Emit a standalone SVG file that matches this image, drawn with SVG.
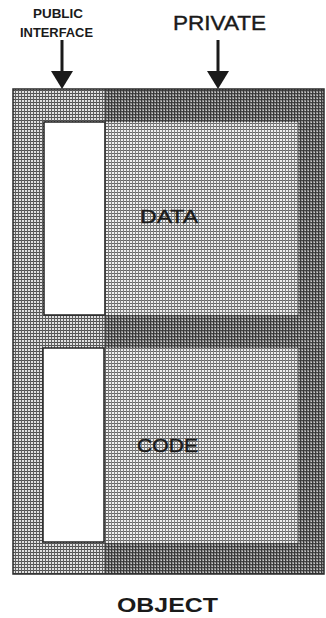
<svg xmlns="http://www.w3.org/2000/svg" width="326" height="618" viewBox="0 0 326 618">
  <style>
    .lbl { font-family: "Liberation Sans", Arial, sans-serif; fill: #1a1a1a; }
    .bold { font-weight: bold; }
    .edge { fill: none; stroke: #2a2a2a; stroke-width: 1.5; }
    .slot { fill: #ffffff; stroke: #222; stroke-width: 1.5; }
    .arrow { stroke: #1a1a1a; stroke-width: 3; fill: none; }
  </style>
  <defs>
    <pattern id="pubPat" width="3" height="3" patternUnits="userSpaceOnUse">
      <rect width="3" height="3" fill="#e0e0e0"/>
      <rect width="3" height="1" fill="#505050"/>
      <rect width="1" height="3" fill="#606060"/>
    </pattern>
    <pattern id="darkPat" width="3" height="3" patternUnits="userSpaceOnUse">
      <rect width="3" height="3" fill="#8e8e8e"/>
      <rect width="3" height="1" fill="#444"/>
      <rect width="1" height="3" fill="#383838"/>
      <rect x="2" y="2" width="1" height="1" fill="#c8c8c8"/>
    </pattern>
    <pattern id="lightPat" width="3" height="3" patternUnits="userSpaceOnUse">
      <rect width="3" height="3" fill="#eeeeee"/>
      <rect width="3" height="1" fill="#666"/>
      <rect width="1" height="3" fill="#808080"/>
    </pattern>
  </defs>

  <rect width="326" height="618" fill="#ffffff"/>

  <g id="private">
    <rect x="105" y="89" width="219" height="485" fill="url(#darkPat)"/>
  </g>

  <g id="data">
    <rect x="105" y="122" width="193" height="193" fill="url(#lightPat)"/>
    <text class="lbl" x="140" y="223" font-size="18" stroke="#1a1a1a" stroke-width="0.4" textLength="58" lengthAdjust="spacingAndGlyphs">DATA</text>
  </g>

  <g id="code">
    <rect x="105" y="348" width="193" height="195" fill="url(#lightPat)"/>
    <text class="lbl" x="137" y="452" font-size="19" stroke="#1a1a1a" stroke-width="0.4" textLength="61" lengthAdjust="spacingAndGlyphs">CODE</text>
  </g>

  <g id="public-interface">
    <rect x="13" y="89" width="92" height="485" fill="url(#pubPat)"/>
    <rect class="slot" x="44" y="122" width="61" height="193"/>
    <rect class="slot" x="43" y="348" width="61" height="194"/>
    <line x1="105" y1="89" x2="105" y2="574" stroke="#444" stroke-width="1"/>
  </g>

  <g id="object">
    <rect class="edge" x="13" y="89" width="311" height="485"/>
    <text class="lbl bold" x="117" y="612" font-size="20" textLength="101" lengthAdjust="spacingAndGlyphs">OBJECT</text>
  </g>

  <g id="labels">
    <text class="lbl bold" x="33" y="18" font-size="12" textLength="50" lengthAdjust="spacingAndGlyphs">PUBLIC</text>
    <text class="lbl bold" x="20" y="37" font-size="12" textLength="73" lengthAdjust="spacingAndGlyphs">INTERFACE</text>
    <text class="lbl" x="173" y="30" font-size="20" stroke="#1a1a1a" stroke-width="0.4" textLength="93" lengthAdjust="spacingAndGlyphs">PRIVATE</text>
  </g>

  <g id="connectors">
    <line class="arrow" x1="62" y1="40" x2="62" y2="74"/>
    <path d="M51,71 L73,71 L62,89 Z" fill="#1a1a1a"/>
    <line class="arrow" x1="218" y1="40" x2="218" y2="74"/>
    <path d="M207,71 L229,71 L218,89 Z" fill="#1a1a1a"/>
  </g>
</svg>
